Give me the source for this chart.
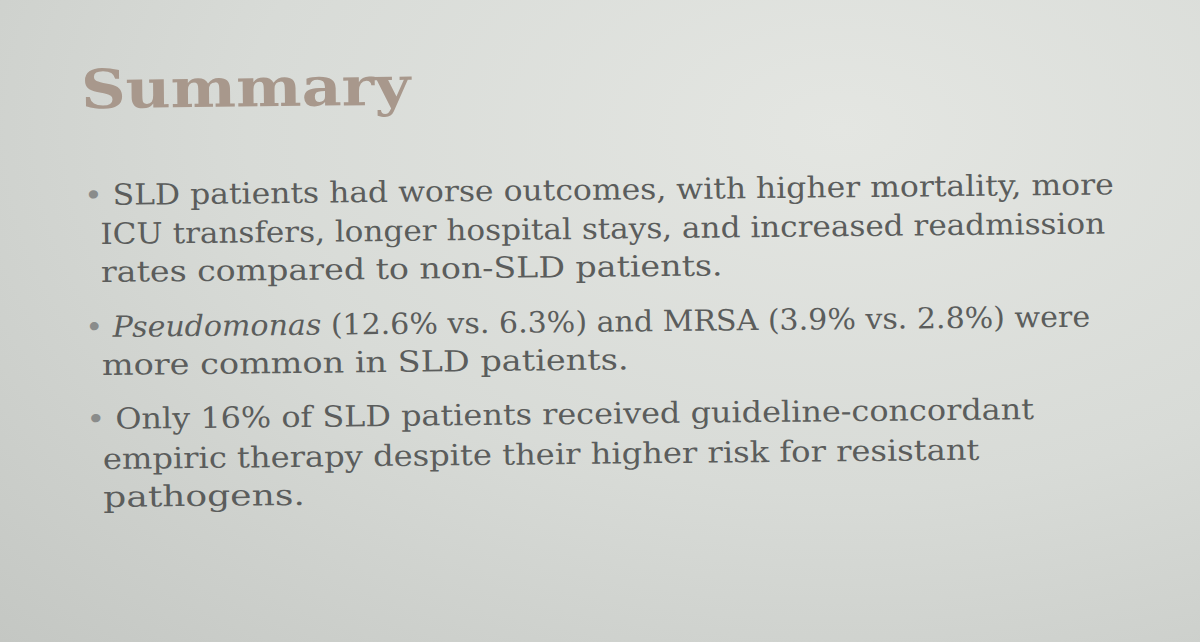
<!DOCTYPE html>
<html><head><meta charset="utf-8">
<script src="https://cdn.jsdelivr.net/npm/chart.js@4"></script>
<style>
html,body{margin:0;padding:0;width:1200px;height:642px;overflow:hidden}
body{background:radial-gradient(ellipse at 70% 20%,#e4e6e2 0%,#d8dbd7 50%,#c4c7c3 100%);font-family:"DejaVu Serif",serif;}
#slide{position:absolute;left:0;top:0;width:1200px;height:642px;transform:rotate(-0.6deg);transform-origin:0 0}
.t{position:absolute;white-space:nowrap;color:#5b5d5c;font-size:29px;line-height:32px;transform-origin:0 50%}
h1{position:absolute;left:80px;top:60px;margin:0;font-family:"DejaVu Serif",serif;font-weight:bold;font-size:54px;line-height:60px;color:#a8988c;transform-origin:0 50%}
.b{color:#8a8c8b}
</style></head><body>
<div id="slide">
<h1 id="ttl">Summary</h1>
</div>
<script>
const pseudomonas=[12.6,6.3];
const mrsa=[3.9,2.8];
const concordant=[16];
const lines=[
 ["• ","SLD patients had worse outcomes, with higher mortality, more",82,196,1112],
 ["","ICU transfers, longer hospital stays, and increased readmission",98,235,1103],
 ["","rates compared to non-SLD patients.",98,273,720],
 ["• ","<i>Pseudomonas</i> ("+pseudomonas[0]+"% vs. "+pseudomonas[1]+"%) and MRSA ("+mrsa[0]+"% vs. "+mrsa[1]+"%) were",82,328,1087],
 ["","more common in SLD patients.",98,366,625],
 ["• ","Only "+concordant[0]+"% of SLD patients received guideline-concordant",82,420,1030],
 ["","empiric therapy despite their higher risk for resistant",98,460,975],
 ["","pathogens.",98,498,300]
];
const s=document.getElementById('slide');
const t=document.getElementById('ttl');
t.style.transform='scaleX('+(330/t.getBoundingClientRect().width)+')';
lines.forEach(([b,txt,x,y,r])=>{
 const d=document.createElement('div');d.className='t';
 d.innerHTML=(b?'<span class="b">•&nbsp;</span>':'')+txt;
 d.style.left=x+'px';d.style.top=(y-16)+'px';
 s.appendChild(d);
 const w=d.getBoundingClientRect().width;
 d.style.transform='scaleX('+((r-x)/w)+')';
});
</script>
</body></html>
